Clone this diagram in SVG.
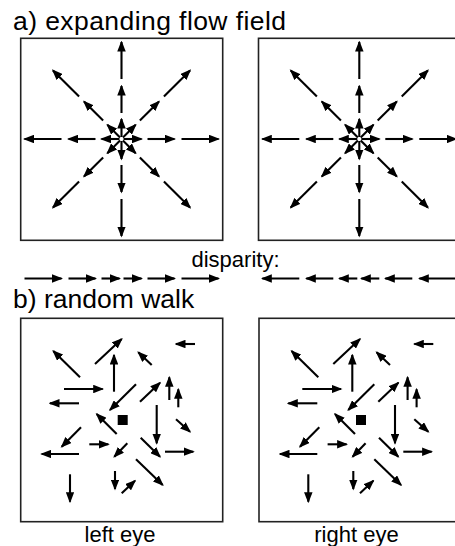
<svg xmlns="http://www.w3.org/2000/svg" xmlns:xlink="http://www.w3.org/1999/xlink" width="455" height="546" viewBox="0 0 455 546">
  <style>
    .t { font-family: "Liberation Sans", Arial, sans-serif; fill: #000; }
    .title { font-size: 26.5px; }
    .lab { font-size: 22px; }
    .box { fill: none; stroke: #222; stroke-width: 1.6; }
    .ar line, line.ar { stroke: #000; stroke-width: 2.1; marker-end: url(#h); }
  </style>
  <defs>
    <marker id="h" viewBox="0 0 11 8.5" refX="9.5" refY="4.25" markerWidth="11" markerHeight="8.5" markerUnits="userSpaceOnUse" orient="auto">
      <path d="M0,0 L11,4.25 L0,8.5 Z" fill="#000"/>
    </marker>
    <g id="ray" class="ar">
      <line x1="2" y1="0" x2="20" y2="0"/>
      <line x1="26" y1="0" x2="53" y2="0"/>
      <line x1="60" y1="0" x2="97" y2="0"/>
    </g>
    <g id="flow">
      <use xlink:href="#ray" href="#ray"/>
      <use xlink:href="#ray" href="#ray" transform="rotate(45)"/>
      <use xlink:href="#ray" href="#ray" transform="rotate(90)"/>
      <use xlink:href="#ray" href="#ray" transform="rotate(135)"/>
      <use xlink:href="#ray" href="#ray" transform="rotate(180)"/>
      <use xlink:href="#ray" href="#ray" transform="rotate(225)"/>
      <use xlink:href="#ray" href="#ray" transform="rotate(270)"/>
      <use xlink:href="#ray" href="#ray" transform="rotate(315)"/>
    </g>
    <g id="walk" class="ar">
      <line x1="80" y1="377.3" x2="53.3" y2="351"/>
      <line x1="95" y1="364" x2="121.7" y2="339"/>
      <line x1="114" y1="391.7" x2="114" y2="355"/>
      <line x1="151.7" y1="365" x2="138.3" y2="352.3"/>
      <line x1="195" y1="344" x2="176" y2="344"/>
      <line x1="64" y1="389" x2="102.7" y2="389"/>
      <line x1="79" y1="403.3" x2="50" y2="403.3"/>
      <line x1="136" y1="384.3" x2="110" y2="410"/>
      <line x1="140" y1="401.7" x2="160" y2="382.7"/>
      <line x1="169.3" y1="400" x2="169.3" y2="377.3"/>
      <line x1="178.3" y1="407.3" x2="178.3" y2="389.3"/>
      <line x1="116.7" y1="434" x2="96.7" y2="414"/>
      <line x1="156.7" y1="405" x2="156.7" y2="443.3"/>
      <line x1="176" y1="419.3" x2="190" y2="431.7"/>
      <line x1="81" y1="427.3" x2="61.7" y2="446.7"/>
      <line x1="89.3" y1="444.3" x2="108.3" y2="444.3"/>
      <line x1="127.3" y1="443.3" x2="114.3" y2="456.7"/>
      <line x1="140.7" y1="437.7" x2="160" y2="456.7"/>
      <line x1="165" y1="451.7" x2="193.3" y2="451.7"/>
      <line x1="79" y1="454" x2="41.7" y2="454"/>
      <line x1="136" y1="459.3" x2="162.7" y2="485"/>
      <line x1="70" y1="474.3" x2="70" y2="501.7"/>
      <line x1="115" y1="471" x2="115" y2="489"/>
      <line x1="121.7" y1="493.3" x2="135" y2="480.7"/>
      <rect x="117.7" y="415" width="10" height="10" fill="#000" stroke="none"/>
    </g>
  </defs>

  <g id="panel-a">
    <text class="t title" x="13" y="30" textLength="273" lengthAdjust="spacing">a) expanding flow field</text>
    <g id="flow-left">
      <rect class="box" x="20.7" y="38.3" width="202" height="202"/>
      <use xlink:href="#flow" href="#flow" transform="translate(121.5,139)"/>
    </g>
    <g id="flow-right">
      <rect class="box" x="258.5" y="38.3" width="202" height="202"/>
      <use xlink:href="#flow" href="#flow" transform="translate(359.3,139)"/>
    </g>
  </g>

  <g id="disparity">
    <text class="t lab" x="191.5" y="267">disparity:</text>
    <g class="ar" id="disp-left" transform="translate(121.5,278.5)">
      <line x1="-97" y1="0" x2="-60" y2="0"/>
      <line x1="-53" y1="0" x2="-26" y2="0"/>
      <line x1="-20" y1="0" x2="-2" y2="0"/>
      <line x1="2" y1="0" x2="20" y2="0"/>
      <line x1="26" y1="0" x2="53" y2="0"/>
      <line x1="60" y1="0" x2="97" y2="0"/>
    </g>
    <g class="ar" id="disp-right" transform="translate(359.3,278.5)">
      <line x1="-60" y1="0" x2="-97" y2="0"/>
      <line x1="-26" y1="0" x2="-53" y2="0"/>
      <line x1="-2" y1="0" x2="-20" y2="0"/>
      <line x1="20" y1="0" x2="2" y2="0"/>
      <line x1="53" y1="0" x2="26" y2="0"/>
      <line x1="97" y1="0" x2="60" y2="0"/>
    </g>
  </g>

  <g id="panel-b">
    <text class="t title" x="13" y="308">b) random walk</text>
    <g id="walk-left">
      <rect class="box" x="20.7" y="318.3" width="202" height="203.4"/>
      <use xlink:href="#walk" href="#walk"/>
      <text class="t lab" x="120" y="541.5" text-anchor="middle">left eye</text>
    </g>
    <g id="walk-right">
      <rect class="box" x="259" y="318.3" width="202" height="203.4"/>
      <use xlink:href="#walk" href="#walk" transform="translate(238.3,0)"/>
      <text class="t lab" x="356.5" y="541.5" text-anchor="middle">right eye</text>
    </g>
  </g>
</svg>
